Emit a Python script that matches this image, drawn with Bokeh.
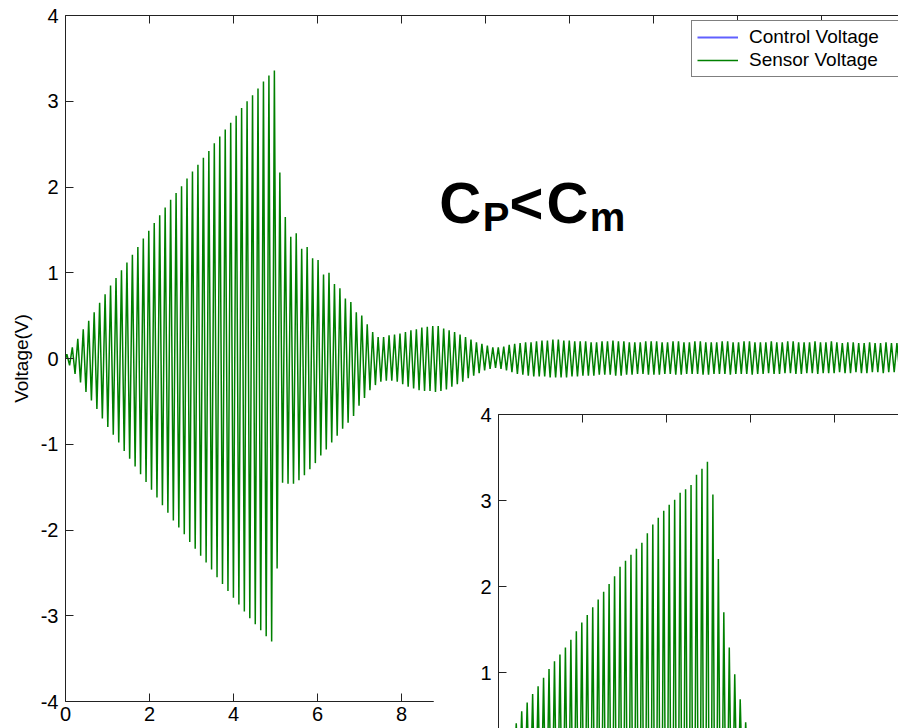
from bokeh.plotting import figure
from bokeh.models import (LinearAxis, FixedTicker, Legend, LegendItem, Label, Range1d)
from bokeh.embed import file_html
from bokeh.resources import INLINE

# ---------------- data ----------------
PERIOD = 0.13  # seconds per oscillation of the recorded voltage

# positive peak of each cycle of the sensor voltage (main plot)
main_peaks = [
    0.05, 0.13, 0.23, 0.34, 0.44, 0.54, 0.65, 0.75, 0.85, 0.94,
    1.03, 1.12, 1.21, 1.30, 1.40, 1.49, 1.58, 1.67, 1.76, 1.85,
    1.93, 2.01, 2.10, 2.18, 2.26, 2.34, 2.42, 2.51, 2.59, 2.67,
    2.75, 2.83, 2.92, 3.00, 3.07, 3.15, 3.23, 3.30, 3.36, 2.17,
    1.65, 1.42, 1.46, 1.28, 1.30, 1.17, 1.15, 0.98, 1.00, 0.87,
    0.82, 0.70, 0.66, 0.54, 0.50, 0.40, 0.31, 0.25, 0.25, 0.27,
    0.28, 0.29, 0.31, 0.33, 0.34, 0.36, 0.37, 0.38, 0.38, 0.35,
    0.33, 0.31, 0.28, 0.25, 0.22, 0.19, 0.17, 0.15, 0.13, 0.13,
    0.14, 0.16, 0.17, 0.18, 0.19, 0.19, 0.20,
    0.21, 0.21, 0.22, 0.22, 0.21, 0.21, 0.20, 0.20, 0.20, 0.19,
    0.19, 0.20, 0.20, 0.21, 0.20, 0.20, 0.19, 0.19, 0.19, 0.20,
    0.20, 0.20, 0.19, 0.19, 0.20, 0.20, 0.19, 0.19, 0.20, 0.20,
    0.19, 0.19, 0.19, 0.20, 0.20, 0.19, 0.19, 0.20, 0.20, 0.19,
    0.19, 0.19, 0.20, 0.19, 0.19, 0.20, 0.20, 0.19, 0.19, 0.19,
    0.20, 0.19, 0.19, 0.20, 0.19, 0.18, 0.19, 0.19, 0.18, 0.18,
    0.19, 0.18, 0.18, 0.19, 0.18, 0.18,
]
# negative trough of each cycle of the sensor voltage (main plot)
main_troughs = [
    -0.08, -0.18, -0.28, -0.39, -0.49, -0.59, -0.70, -0.80, -0.89, -0.98,
    -1.08, -1.17, -1.26, -1.35, -1.44, -1.53, -1.62, -1.71, -1.80, -1.89,
    -1.97, -2.05, -2.14, -2.22, -2.30, -2.38, -2.46, -2.55, -2.63, -2.71,
    -2.79, -2.87, -2.95, -3.03, -3.10, -3.17, -3.24, -3.30, -2.45, -1.45,
    -1.46, -1.46, -1.42, -1.36, -1.29, -1.22, -1.13, -1.06, -0.98, -0.90,
    -0.82, -0.75, -0.67, -0.55, -0.46, -0.37, -0.31, -0.27, -0.26, -0.26,
    -0.27, -0.30, -0.33, -0.35, -0.37, -0.38, -0.38, -0.39, -0.38, -0.36,
    -0.33, -0.30, -0.27, -0.23, -0.20, -0.17, -0.14, -0.12, -0.11, -0.12,
    -0.14, -0.16, -0.18, -0.19, -0.20, -0.21, -0.21,
    -0.21, -0.22, -0.22, -0.22, -0.22, -0.21, -0.21, -0.20, -0.20, -0.20,
    -0.19, -0.19, -0.19, -0.20, -0.20, -0.19, -0.19, -0.18, -0.18, -0.19,
    -0.19, -0.19, -0.18, -0.18, -0.19, -0.19, -0.18, -0.18, -0.18, -0.19,
    -0.19, -0.18, -0.18, -0.18, -0.19, -0.18, -0.18, -0.18, -0.19, -0.18,
    -0.18, -0.17, -0.18, -0.18, -0.17, -0.17, -0.18, -0.18, -0.17, -0.17,
    -0.18, -0.17, -0.17, -0.17, -0.16, -0.17, -0.17, -0.16, -0.17, -0.17,
    -0.16, -0.16, -0.17, -0.16, -0.16, -0.16,
]

# second (inset) recording: peaks and troughs of each cycle
inset_peaks = [
    0.03, 0.15, 0.29, 0.41, 0.55, 0.65, 0.75, 0.84, 0.94, 1.04,
    1.13, 1.21, 1.29, 1.38, 1.48, 1.58, 1.67, 1.76, 1.85, 1.94,
    2.03, 2.12, 2.23, 2.30, 2.37, 2.44, 2.51, 2.62, 2.72, 2.80,
    2.88, 2.95, 3.01, 3.09, 3.13, 3.18, 3.30, 3.37, 3.45, 3.07,
    2.32, 1.70, 1.29, 0.98, 0.69, 0.42, 0.25,
]
inset_troughs = [
    -0.08, -0.22, -0.35, -0.48, -0.60, -0.70, -0.80, -0.89, -0.99, -1.08,
    -1.17, -1.25, -1.33, -1.43, -1.53, -1.62, -1.71, -1.80, -1.89, -1.98,
    -2.07, -2.17, -2.26, -2.33, -2.40, -2.47, -2.56, -2.67, -2.76, -2.84,
    -2.91, -2.98, -3.05, -3.11, -3.15, -3.24, -3.33, -3.41, -3.30, -2.70,
    -2.00, -1.50, -1.13, -0.83, -0.55, -0.33, -0.22,
]

# control voltage: not visible in the picture (legend entry only)
control_time = [0.0]
control_volt = [float("nan")]

x_ticks = [0, 2, 4, 6, 8, 10, 12, 14, 16, 18]
y_ticks = [-4, -3, -2, -1, 0, 1, 2, 3, 4]
inset_y_ticks = [1, 2, 3, 4]
legend_labels = ["Control Voltage", "Sensor Voltage"]
y_label = "Voltage(V)"

FONT = "Liberation Sans"
GREEN = "#008000"


def trace(peaks, troughs):
    t, v = [0.0], [0.0]
    for k, (hi, lo) in enumerate(zip(peaks, troughs)):
        t += [k * PERIOD + 0.25 * PERIOD, k * PERIOD + 0.75 * PERIOD]
        v += [hi, lo]
    return t, v


def style_axis(ax, ticks, labels=True):
    ax.ticker = FixedTicker(ticks=ticks)
    ax.axis_line_color = "#222222"
    ax.axis_line_width = 1
    ax.major_tick_line_color = "#222222"
    ax.major_tick_in = 8
    ax.major_tick_out = 0
    ax.minor_tick_line_color = None
    ax.major_label_text_font = FONT
    if labels:
        ax.major_label_text_font_size = "20px"
        ax.major_label_text_color = "black"
        ax.major_label_overrides = {t: str(t) for t in ticks}  # plain hyphen minus
    else:
        ax.major_label_text_font_size = "1px"
        ax.major_label_text_color = None
        ax.major_label_standoff = 0


# ---------------- main plot ----------------
p = figure(width=898, height=728,
           x_range=Range1d(0, 19.83), y_range=Range1d(-4, 4),
           output_backend="svg", toolbar_location=None,
           min_border_left=65, min_border_right=0,
           min_border_top=15, min_border_bottom=27,
           background_fill_color="white", border_fill_color="white")
p.outline_line_color = None
p.grid.visible = False

style_axis(p.xaxis[0], x_ticks)
p.xaxis[0].major_label_standoff = 5
style_axis(p.yaxis[0], y_ticks)
p.yaxis[0].major_label_standoff = 7
p.yaxis[0].axis_label = y_label
p.yaxis[0].axis_label_text_font = FONT
p.yaxis[0].axis_label_text_font_size = "19px"
p.yaxis[0].axis_label_text_font_style = "normal"
p.yaxis[0].axis_label_text_color = "black"
p.yaxis[0].axis_label_standoff = 6

top = LinearAxis()
style_axis(top, x_ticks, labels=False)
p.add_layout(top, "above")

st, sv = trace(main_peaks, main_troughs)
r_ctrl = p.line(control_time, control_volt, line_color="#6060ff", line_width=2)
r_sens = p.line(st, sv, line_color=GREEN, line_width=1.5)

legend = Legend(items=[LegendItem(label=legend_labels[0], renderers=[r_ctrl]),
                       LegendItem(label=legend_labels[1], renderers=[r_sens])],
                location=(626, 624),
                padding=5, spacing=1, margin=0,
                glyph_width=41, glyph_height=20,
                label_standoff=11, label_width=144, label_height=20,
                label_text_font=FONT, label_text_font_size="19px",
                label_text_color="black",
                border_line_color="black", border_line_width=1,
                background_fill_color="white", background_fill_alpha=1)
p.add_layout(legend)

# big annotation C_P<C_m
big = dict(text_font=FONT, text_font_style="bold", text_color="black",
           text_baseline="alphabetic", text_align="left")
p.add_layout(Label(x=8.90, y=1.823, text="C", text_font_size="58px", **big))
p.add_layout(Label(x=9.93, y=1.648, text="P", text_font_size="40px", **big))
p.add_layout(Label(x=10.567, y=1.823, text="<", text_font_size="58px", **big))
p.add_layout(Label(x=11.45, y=1.823, text="C", text_font_size="58px", **big))
p.add_layout(Label(x=12.48, y=1.648, text="m", text_font_size="40px", **big))

p.styles = {"position": "absolute", "left": "0px", "top": "0px"}

# ---------------- inset plot (second recording) ----------------
ins = figure(width=465, height=328,
             x_range=Range1d(0, 9.52), y_range=Range1d(0.349, 4),
             output_backend="svg", toolbar_location=None,
             x_axis_location=None,
             min_border_left=65, min_border_right=0,
             min_border_top=14, min_border_bottom=0,
             background_fill_color="white", border_fill_color="white")
ins.outline_line_color = None
ins.grid.visible = False
style_axis(ins.yaxis[0], inset_y_ticks)
ins.yaxis[0].major_label_standoff = 7
itop = LinearAxis()
style_axis(itop, x_ticks[:5], labels=False)
ins.add_layout(itop, "above")

it, iv = trace(inset_peaks, inset_troughs)
ins.line(it, iv, line_color=GREEN, line_width=1.5)

ins.styles = {"position": "absolute", "left": "433px", "top": "400px"}

open("out.html", "w").write(file_html([p, ins], INLINE, title="Voltage"))
